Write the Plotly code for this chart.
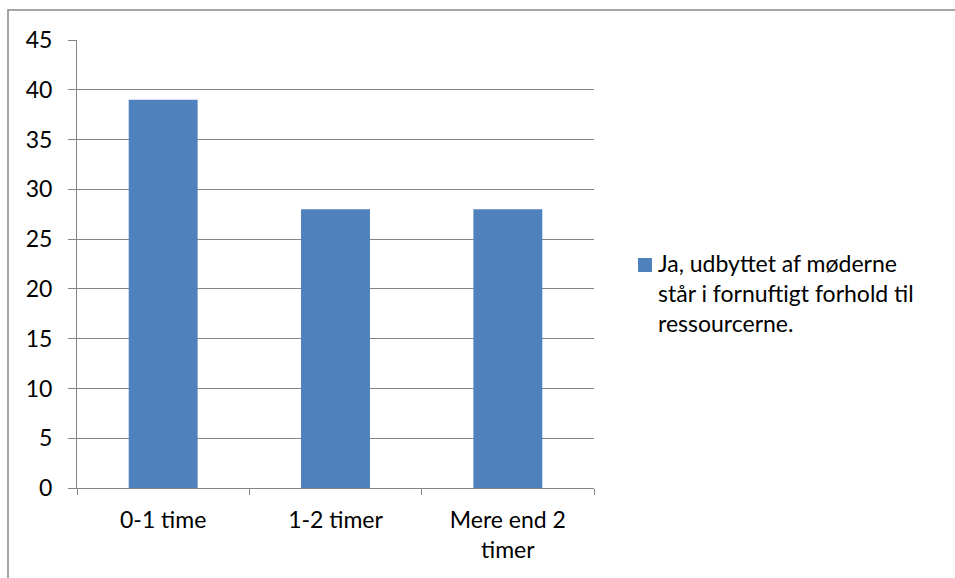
import plotly.graph_objects as go

categories = ["0-1 time", "1-2 timer", "Mere end 2<br>timer"]
values = [39, 28, 28]
series_name = "Ja, udbyttet af møderne<br>står i fornuftigt forhold til<br>ressourcerne."
y_ticks = [0, 5, 10, 15, 20, 25, 30, 35, 40, 45]

W, H = 955, 578
L, R, T, B = 77, 361, 40, 90
plot_w = W - L - R
plot_h = H - T - B

FONT = "Lato"
FS = 23
GRID = "#868686"
BAR = "#4F81BD"

fig = go.Figure()
fig.add_trace(go.Bar(
    x=categories,
    y=values,
    name=series_name,
    marker=dict(color=BAR, line=dict(width=0)),
    showlegend=False,
))

def px_x(px):
    return (px - L) / plot_w

def px_y(py):
    return (H - B - py) / plot_h

fig.update_layout(
    width=W, height=H,
    margin=dict(l=L, r=R, t=T, b=B),
    paper_bgcolor="white",
    plot_bgcolor="white",
    bargap=0.6,
    font=dict(family=FONT, size=FS, color="black"),
    xaxis=dict(
        showline=True, linecolor=GRID, linewidth=1,
        ticks="outside", tickson="boundaries", ticklen=6, tickcolor=GRID,
        showgrid=False,
        ticklabelstandoff=11,
    ),
    yaxis=dict(
        range=[0, 45], tickvals=y_ticks,
        showline=True, linecolor=GRID, linewidth=1,
        ticks="outside", ticklen=8, tickcolor=GRID,
        showgrid=True, gridcolor=GRID, gridwidth=1,
        zeroline=False,
        ticklabelstandoff=11,
    ),
    shapes=[
        # outer chart frame
        dict(
            type="rect", xref="paper", yref="paper",
            x0=px_x(8), x1=px_x(1000), y0=px_y(640), y1=px_y(10),
            line=dict(color="#888888", width=1.5), fillcolor="rgba(0,0,0,0)",
            layer="below",
        ),
        # legend key
        dict(
            type="rect", xref="paper", yref="paper",
            x0=px_x(638), x1=px_x(652), y0=px_y(272), y1=px_y(258),
            line=dict(width=0), fillcolor=BAR,
        ),
    ],
    annotations=[dict(
        text=series_name, xref="paper", yref="paper",
        x=px_x(656), y=px_y(247), xanchor="left", yanchor="top",
        align="left", showarrow=False,
        font=dict(family=FONT, size=FS, color="black"),
    )],
)

fig.write_html("out.html")
